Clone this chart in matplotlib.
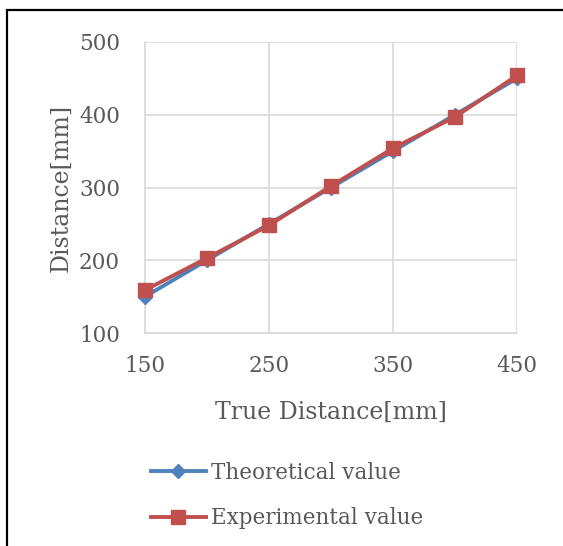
import matplotlib
matplotlib.use("Agg")
import matplotlib.pyplot as plt
from matplotlib.patches import Rectangle

# ----------------------------- data -----------------------------
true_dist = [150, 200, 250, 300, 350, 400, 450]
theoretical = [150, 200, 250, 300, 350, 400, 450]
experimental = [159, 203, 248, 302, 354, 397, 454]

x_ticks = [150, 250, 350, 450]
y_ticks = [100, 200, 300, 400, 500]

BLUE = "#4F81BD"
RED = "#C0504D"
TXT = "#595959"
GRID = "#D9D9D9"

plt.rcParams["font.family"] = ["DejaVu Serif"]
FS = 15.5

W, H = 563, 546
fig = plt.figure(figsize=(W / 100, H / 100), dpi=100)
ax = fig.add_axes([145 / W, 1 - 333 / H, (517 - 145) / W, (333 - 42) / H])

ax.plot(true_dist, theoretical, color=BLUE, lw=2.8, marker="D", ms=7.5,
        label="Theoretical value", zorder=3, clip_on=False)
ax.plot(true_dist, experimental, color=RED, lw=2.8, marker="s", ms=10,
        label="Experimental value", zorder=4, clip_on=False)

ax.set_xlim(150, 450)
ax.set_ylim(100, 500)
ax.set_xticks(x_ticks)
ax.set_yticks(y_ticks)
ax.grid(True, color=GRID, lw=1.2)
ax.set_axisbelow(True)
for s in ax.spines.values():
    s.set_visible(False)
for side in ("left", "bottom"):
    ax.spines[side].set_visible(True)
    ax.spines[side].set_color(GRID)
    ax.spines[side].set_linewidth(1.2)
ax.tick_params(length=0, colors=TXT, labelsize=FS)
ax.tick_params(axis="y", pad=18)
ax.tick_params(axis="x", pad=16)

ax.set_xlabel("True Distance[mm]", color=TXT, fontsize=17, labelpad=17)
ax.set_ylabel("Distance[mm]", color=TXT, fontsize=17, labelpad=5)

ax.legend(loc="upper left", bbox_to_anchor=(151 / W, 1 - 462 / H),
          bbox_transform=fig.transFigure, frameon=False, labelcolor=TXT,
          fontsize=FS, handlelength=2.55, handletextpad=0.25, labelspacing=1.08,
          borderaxespad=0, borderpad=0)

# outer chart frame (cut off at right/bottom in the reference)
fig.patches.append(Rectangle((7 / W, -0.05), 1.2, 1 - 10 / H + 0.05,
                             transform=fig.transFigure, fill=False,
                             edgecolor="black", lw=1.6))

fig.savefig("out.png", dpi=100)
